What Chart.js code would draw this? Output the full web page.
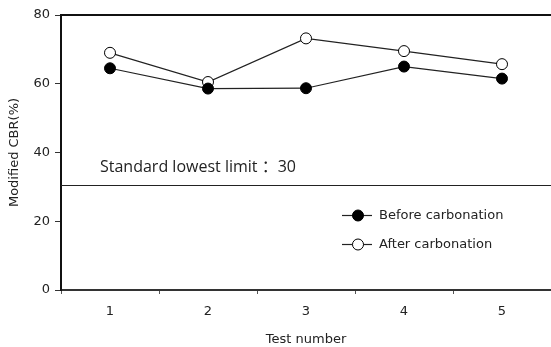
<!DOCTYPE html>
<html>
<head>
<meta charset="utf-8">
<script src="https://cdn.jsdelivr.net/npm/chart.js@4/dist/chart.umd.min.js"></script>
<style>
html, body { margin: 0; padding: 0; background: #fff; }
</style>
</head>
<body>
<canvas id="myChart" width="551" height="347"></canvas>
<script>
// data
var testNumbers = ['1', '2', '3', '4', '5'];
var beforeCarbonation = [64.5, 58.6, 58.7, 65.0, 61.5];
var afterCarbonation = [69.0, 60.5, 73.2, 69.5, 65.7];
var yTicks = [0, 20, 40, 60, 80];
var limitValue = 30.5;
var limitLabel = 'Standard lowest limit ：30';
var seriesNames = ['Before carbonation', 'After carbonation'];

var baseFont = { family: 'DejaVu Sans', size: 13 };

// limit line, top border and legend
var extras = {
	id: 'extras',
	beforeDatasetsDraw: function(chart) {
		var ctx = chart.ctx;
		var area = chart.chartArea;
		var y = chart.scales.y;
		var ly = Math.round(y.getPixelForValue(limitValue)) + 0.5;
		ctx.save();
		ctx.strokeStyle = '#222';
		ctx.lineWidth = 1;
		ctx.beginPath();
		ctx.moveTo(area.left, ly);
		ctx.lineTo(area.right, ly);
		ctx.stroke();
		// top border
		ctx.lineWidth = 2;
		ctx.strokeStyle = '#111';
		ctx.beginPath();
		ctx.moveTo(area.left, area.top);
		ctx.lineTo(area.right, area.top);
		ctx.stroke();
		// limit label
		ctx.fillStyle = '#222';
		ctx.font = '16px "Open Sans", "Noto Sans CJK SC"';
		ctx.textBaseline = 'middle';
		ctx.textAlign = 'left';
		ctx.fillText(limitLabel, area.left + 39, ly - 18);
		ctx.restore();
	},
	afterDatasetsDraw: function(chart) {
		var ctx = chart.ctx;
		var area = chart.chartArea;
		ctx.save();
		chart.data.datasets.forEach(function(ds, i) {
			var x0 = area.left + 281;
			var yy = area.top + 200.5 + i * 29;
			ctx.strokeStyle = '#222';
			ctx.lineWidth = 1.2;
			ctx.beginPath();
			ctx.moveTo(x0, yy);
			ctx.lineTo(x0 + 30, yy);
			ctx.stroke();
			ctx.beginPath();
			ctx.arc(x0 + 16, yy, 5.5, 0, Math.PI * 2);
			ctx.fillStyle = ds.pointBackgroundColor;
			ctx.fill();
			ctx.lineWidth = 1;
			ctx.strokeStyle = '#000';
			ctx.stroke();
			ctx.fillStyle = '#222';
			ctx.font = '13px "DejaVu Sans"';
			ctx.textBaseline = 'middle';
			ctx.textAlign = 'left';
			ctx.fillText(ds.label, x0 + 37, yy);
		});
		ctx.restore();
	}
};

var ctx = document.getElementById('myChart').getContext('2d');
var myChart = new Chart(ctx, {
	type: 'line',
	data: {
		labels: testNumbers,
		datasets: [
			{
				label: seriesNames[0],
				data: beforeCarbonation,
				borderColor: '#222',
				borderWidth: 1.2,
				pointRadius: 5.5,
				pointBorderWidth: 1,
				pointBorderColor: '#000',
				pointBackgroundColor: '#000',
				tension: 0
			},
			{
				label: seriesNames[1],
				data: afterCarbonation,
				borderColor: '#222',
				borderWidth: 1.2,
				pointRadius: 5.5,
				pointBorderWidth: 1,
				pointBorderColor: '#000',
				pointBackgroundColor: '#fff',
				tension: 0
			}
		]
	},
	options: {
		responsive: false,
		animation: false,
		layout: { autoPadding: false, padding: { top: 15, right: 0, bottom: 0, left: 0 } },
		plugins: {
			legend: { display: false },
			tooltip: { enabled: false }
		},
		scales: {
			x: {
				offset: true,
				afterFit: function(scale) {
					scale.height = 57;
					scale.paddingLeft = 0;
					scale.paddingRight = 0;
				},
				grid: {
					offset: true,
					drawOnChartArea: false,
					tickLength: 4,
					color: '#555'
				},
				border: { display: true, color: '#333', width: 2 },
				ticks: { color: '#222', font: baseFont, padding: 10 },
				title: {
					display: true,
					text: 'Test number',
					color: '#222',
					font: baseFont,
					padding: { top: 7, bottom: 0 }
				}
			},
			y: {
				min: 0,
				max: 80,
				afterBuildTicks: function(scale) {
					scale.ticks = yTicks.map(function(v) { return { value: v }; });
				},
				afterFit: function(scale) { scale.width = 61; },
				grid: {
					drawOnChartArea: false,
					tickLength: 6,
					color: '#333'
				},
				border: { display: true, color: '#111', width: 2 },
				ticks: { color: '#222', font: baseFont, padding: 5 },
				title: {
					display: true,
					text: 'Modified CBR(%)',
					color: '#222',
					font: baseFont,
					padding: { top: 7, bottom: 0 }
				}
			}
		}
	},
	plugins: [extras]
});
</script>
</body>
</html>
